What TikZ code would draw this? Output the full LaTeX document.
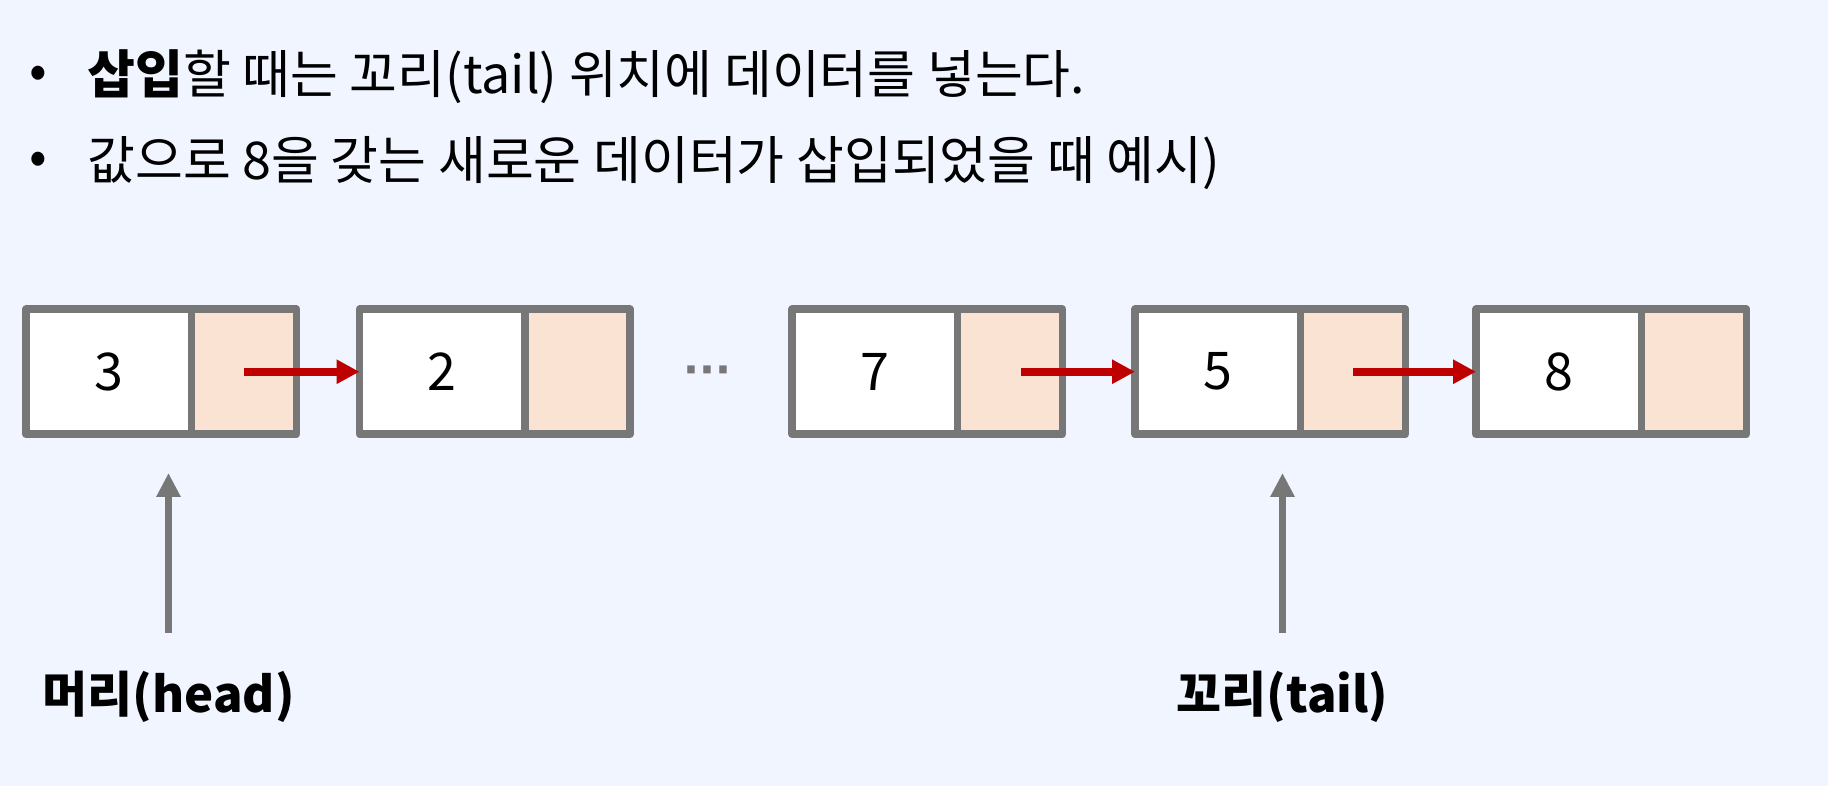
\documentclass[tikz,border=0pt]{standalone}
\usepackage{fontspec}
\setmainfont{Noto Sans CJK KR}
\newfontfamily\dotfont{DejaVu Sans}
\usepackage{tikz}
\usetikzlibrary{positioning,arrows.meta,calc}
\definecolor{bgblue}{HTML}{F0F5FF}
\definecolor{cellgray}{HTML}{777777}
\definecolor{ptrfill}{HTML}{FBE3D3}
\definecolor{linkred}{HTML}{BF0000}
\tikzset{
  >=Stealth,
  x=0.5pt, y=-0.5pt,
}

\begin{document}
\begin{tikzpicture}[
  datacell/.style={draw=cellgray, line width=3.8pt, line join=round, fill=white, outer sep=0pt, inner sep=0pt, minimum width=82.75pt, minimum height=62.5pt, font=\fontsize{26}{30}\selectfont},
  ptrcell/.style={datacell, fill=ptrfill, minimum width=52.5pt},
  link/.style={linkred, line width=3.85pt, -{Triangle[length=11.5pt, width=11.5pt]}},
  marker/.style={cellgray, line width=3.6pt, -{Triangle[length=12pt, width=11.5pt]}},
  endtag/.style={inner sep=0pt, font=\fontsize{24.5}{30}\selectfont\bfseries},
  bulletline/.style={anchor=west, inner sep=0pt, font=\fontsize{26}{30}\selectfont},
  gapdots/.style={text=cellgray, inner sep=0pt, font=\fontsize{21}{30}\dotfont\bfseries}
]
  \fill[bgblue] (0,0) rectangle (1828,786);
  \useasboundingbox (0,0) rectangle (1828,786);

  \node[bulletline] (b1) at (29,77) {•};
  \node[bulletline] (t1) at (87,77) {\textbf{삽입}할 때는 꼬리(tail) 위치에 데이터를 넣는다.};
  \node[bulletline] (b2) at (29,163) {•};
  \node[bulletline] (t2) at (87,163) {값으로 8을 갖는 새로운 데이터가 삽입되었을 때 예시)};

  \node[datacell, anchor=west] (d1) at (26,371.75) {3};
  \node[ptrcell, right=0pt of d1] (p1) {};
  \node[datacell, right=31.5pt of p1] (d2) {2};
  \node[ptrcell, right=0pt of d2] (p2) {};
  \node[datacell, right=81pt of p2] (d3) {7};
  \node[ptrcell, right=0pt of d3] (p3) {};
  \node[datacell, right=36.25pt of p3] (d4) {5};
  \node[ptrcell, right=0pt of d4] (p4) {};
  \node[datacell, right=35.25pt of p4] (d5) {8};
  \node[ptrcell, right=0pt of d5] (p5) {};
  \node[gapdots] (gap) at ($(p2.east)!0.5!(d3.west)+(-3.5,3)$) {···};

  \draw[link] (p1.center) -- (d2.west);
  \draw[link] ([xshift=5.5pt]p3.center) -- (d4.west);
  \draw[link] (p4.center) -- (d5.west);

  \node[endtag] (headlbl) at (168.5,697) {머리(head)};
  \node[endtag] (taillbl) at (1282.5,697) {꼬리(tail)};
  \coordinate (headtip) at (168.5,473);
  \coordinate (tailtip) at (1282.5,473);
  \draw[marker, shorten <=19pt] (headlbl) -- (headtip);
  \draw[marker, shorten <=19pt] (taillbl) -- (tailtip);
\end{tikzpicture}
\end{document}
